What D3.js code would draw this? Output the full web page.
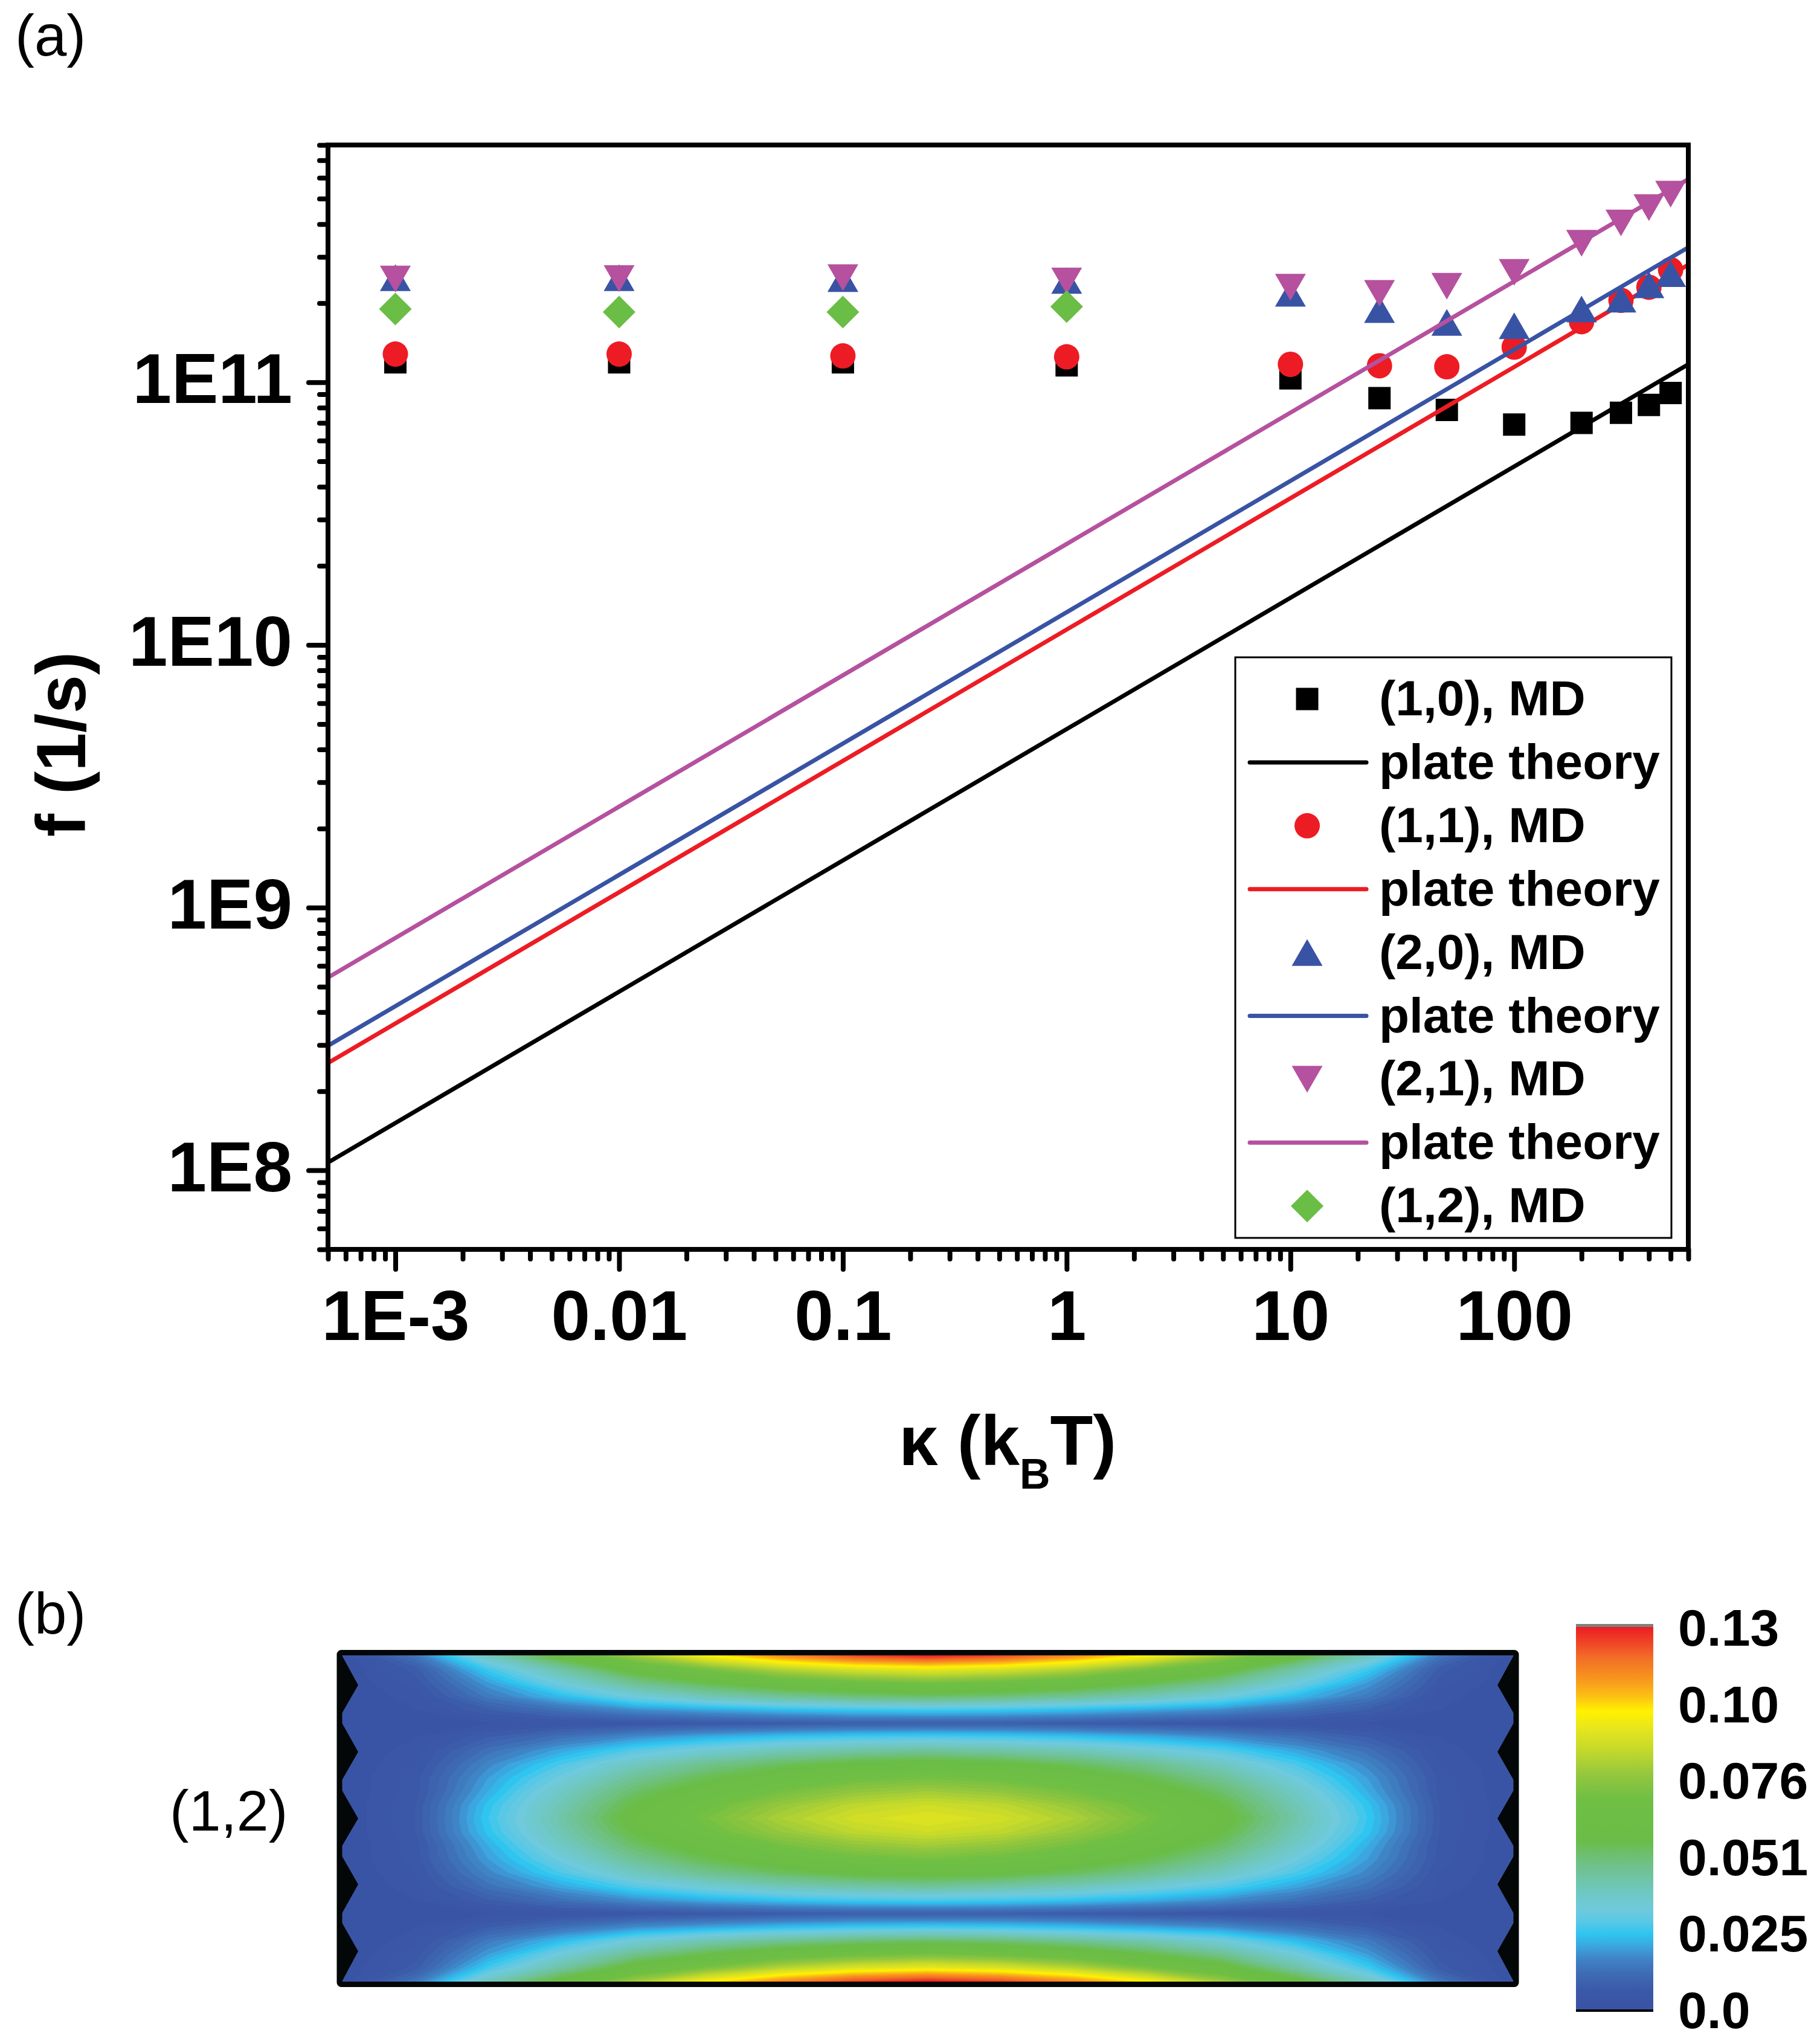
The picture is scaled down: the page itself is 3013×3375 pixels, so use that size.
<!DOCTYPE html>
<html>
<head>
<meta charset="utf-8">
<script src="https://cdn.jsdelivr.net/npm/d3@7"></script>
<style>
  body { margin: 0; background: #fff; }
  svg text { font-family: "Liberation Sans", Arial, Helvetica, sans-serif; }
</style>
</head>
<body>
<svg id="chart" width="3013" height="3375"></svg>
<script>
// ---- panel (a) data ----
const kappa = [0.001, 0.01, 0.1, 1, 10, 25, 50, 100, 200, 300, 400, 500];
const f10 = [1.19e11, 1.19e11, 1.19e11, 1.16e11, 1.035e11, 8.7e10, 7.85e10, 6.9e10, 7.0e10, 7.65e10, 8.2e10, 9.1e10];
const f11 = [1.28e11, 1.28e11, 1.26e11, 1.25e11, 1.17e11, 1.155e11, 1.145e11, 1.36e11, 1.70e11, 2.05e11, 2.30e11, 2.68e11];
const f20 = [2.50e11, 2.50e11, 2.48e11, 2.44e11, 2.18e11, 1.89e11, 1.69e11, 1.64e11, 1.90e11, 2.07e11, 2.35e11, 2.59e11];
const f21 = [2.47e11, 2.48e11, 2.50e11, 2.43e11, 2.30e11, 2.18e11, 2.32e11, 2.62e11, 3.38e11, 4.04e11, 4.62e11, 5.20e11];
const kappa12 = [0.001, 0.01, 0.1, 1];
const f12 = [1.90e11, 1.85e11, 1.85e11, 1.94e11];

const theoryKappa = [5e-4, 600];
const theory10 = [1.07e8, 1.17e11];
const theory11 = [2.56e8, 2.80e11];
const theory20 = [2.98e8, 3.26e11];
const theory21 = [5.42e8, 5.93e11];

const xTickValues = [1e-3, 1e-2, 1e-1, 1, 10, 100];
const xTickLabels = ["1E-3", "0.01", "0.1", "1", "10", "100"];
const yTickValues = [1e8, 1e9, 1e10, 1e11];
const yTickLabels = ["1E8", "1E9", "1E10", "1E11"];

// ---- panel (b) data: (1,2) mode amplitude, 25 rows (top to bottom) x 17 columns ----
const modeGrid = [
  [0, .014, .040, .060, .080, .098, .112, .122, .127, .122, .112, .098, .080, .060, .040, .014, 0],
  [0, .007, .027, .044, .061, .073, .084, .091, .094, .091, .084, .073, .061, .044, .027, .007, 0],
  [0, .005, .020, .034, .047, .056, .064, .069, .072, .069, .064, .056, .047, .034, .020, .005, 0],
  [0, .003, .015, .024, .034, .041, .046, .050, .052, .050, .046, .041, .034, .024, .015, .003, 0],
  [0, .002, .008, .013, .018, .021, .024, .026, .027, .026, .024, .021, .018, .013, .008, .002, 0],
  [0, .001, .002, .004, .005, .006, .007, .008, .008, .008, .007, .006, .005, .004, .002, .001, 0],
  [0, .002, .008, .013, .018, .022, .025, .027, .028, .027, .025, .022, .018, .013, .008, .002, 0],
  [0, .003, .013, .021, .029, .035, .040, .043, .045, .043, .040, .035, .029, .021, .013, .003, 0],
  [0, .004, .017, .028, .039, .047, .053, .058, .060, .058, .053, .047, .039, .028, .017, .004, 0],
  [0, .005, .020, .033, .046, .055, .063, .069, .071, .069, .063, .055, .046, .033, .020, .005, 0],
  [0, .005, .022, .038, .052, .062, .071, .077, .080, .077, .071, .062, .052, .038, .022, .005, 0],
  [0, .006, .025, .041, .057, .069, .078, .085, .088, .085, .078, .069, .057, .041, .025, .006, 0],
  [0, .006, .026, .043, .060, .072, .082, .089, .092, .089, .082, .072, .060, .043, .026, .006, 0],
  [0, .006, .025, .041, .057, .069, .078, .085, .088, .085, .078, .069, .057, .041, .025, .006, 0],
  [0, .005, .022, .038, .052, .062, .071, .077, .080, .077, .071, .062, .052, .038, .022, .005, 0],
  [0, .005, .020, .033, .046, .055, .063, .069, .071, .069, .063, .055, .046, .033, .020, .005, 0],
  [0, .004, .017, .028, .039, .047, .053, .058, .060, .058, .053, .047, .039, .028, .017, .004, 0],
  [0, .003, .013, .021, .029, .035, .040, .043, .045, .043, .040, .035, .029, .021, .013, .003, 0],
  [0, .002, .008, .013, .018, .022, .025, .027, .028, .027, .025, .022, .018, .013, .008, .002, 0],
  [0, .001, .002, .004, .005, .006, .007, .008, .008, .008, .007, .006, .005, .004, .002, .001, 0],
  [0, .002, .008, .013, .018, .021, .024, .026, .027, .026, .024, .021, .018, .013, .008, .002, 0],
  [0, .003, .015, .024, .034, .041, .046, .050, .052, .050, .046, .041, .034, .024, .015, .003, 0],
  [0, .005, .020, .034, .047, .056, .064, .069, .072, .069, .064, .056, .047, .034, .020, .005, 0],
  [0, .007, .027, .044, .061, .073, .084, .091, .094, .091, .084, .073, .061, .044, .027, .007, 0],
  [0, .014, .040, .060, .080, .098, .112, .122, .127, .122, .112, .098, .080, .060, .040, .014, 0]
];
// sheet edge (zigzag) profile: [indent fraction of width, y fraction of height]
const edgeProfile = [[0, 0], [0.0139, 0.091], [0, 0.178], [0, 0.207], [0.0139, 0.296], [0, 0.383], [0, 0.413],
  [0.0139, 0.5], [0, 0.585], [0, 0.615], [0.0139, 0.702], [0, 0.791], [0, 0.819], [0.0139, 0.907], [0, 1]];

const cmapValues = [0, 0.006, 0.012, 0.017, 0.021, 0.025, 0.029, 0.033, 0.038, 0.044, 0.050, 0.056, 0.070, 0.078, 0.086, 0.094, 0.099, 0.104, 0.110, 0.117, 0.123, 0.127];
const cmapColors = ["#3a53a4", "#3b58a7", "#3e6cb4", "#3f85c6", "#3ba6df", "#2ec5f0", "#58c8e6", "#6ecadc", "#6fc8c6", "#70c3a2", "#6ec07a", "#6abd47", "#6fbf44", "#94c73d", "#c3d92c", "#eae71a", "#fff200", "#fcc014", "#f7941d", "#f26c28", "#ee3b25", "#ed1c24"];
const colorbarTicks = [0, 0.0254, 0.0508, 0.0762, 0.1016, 0.127];
const colorbarLabels = ["0.0", "0.025", "0.051", "0.076", "0.10", "0.13"];

// ---- drawing ----
const svg = d3.select("#chart");
const plot = { left: 543, right: 2795, top: 240, bottom: 2068 };

const x = d3.scaleLog().domain([5e-4, 600]).range([plot.left, plot.right]);
const y = d3.scaleLog().domain([5e7, 8e11]).range([plot.bottom, plot.top]);

const black = "#000000", red = "#ed1c24", blue = "#3953a4", magenta = "#b5519e", green = "#6abd45";

// custom marker shapes (Origin style, centred on bounding box)
const triUp = { draw(ctx, size) { const w = Math.sqrt(size), h = w * 0.866;
  ctx.moveTo(0, -h / 2); ctx.lineTo(w / 2, h / 2); ctx.lineTo(-w / 2, h / 2); ctx.closePath(); } };
const triDown = { draw(ctx, size) { const w = Math.sqrt(size), h = w * 0.866;
  ctx.moveTo(0, h / 2); ctx.lineTo(w / 2, -h / 2); ctx.lineTo(-w / 2, -h / 2); ctx.closePath(); } };
const diamond = { draw(ctx, size) { const r = Math.sqrt(size) / 2;
  ctx.moveTo(0, -r); ctx.lineTo(r, 0); ctx.lineTo(0, r); ctx.lineTo(-r, 0); ctx.closePath(); } };

const series = [
  { type: "md", label: "(1,0), MD", xs: kappa, ys: f10, color: black, symbol: d3.symbolSquare, size: 37 * 37 },
  { type: "line", label: "plate theory", xs: theoryKappa, ys: theory10, color: black },
  { type: "md", label: "(1,1), MD", xs: kappa, ys: f11, color: red, symbol: d3.symbolCircle, size: Math.PI * 21 * 21 },
  { type: "line", label: "plate theory", xs: theoryKappa, ys: theory11, color: red },
  { type: "md", label: "(2,0), MD", xs: kappa, ys: f20, color: blue, symbol: triUp, size: 51 * 51 },
  { type: "line", label: "plate theory", xs: theoryKappa, ys: theory20, color: blue },
  { type: "md", label: "(2,1), MD", xs: kappa, ys: f21, color: magenta, symbol: triDown, size: 51 * 51 },
  { type: "line", label: "plate theory", xs: theoryKappa, ys: theory21, color: magenta },
  { type: "md", label: "(1,2), MD", xs: kappa12, ys: f12, color: green, symbol: diamond, size: 54 * 54 }
];

svg.append("defs").append("clipPath").attr("id", "plotClip")
  .append("rect").attr("x", plot.left).attr("y", plot.top)
  .attr("width", plot.right - plot.left).attr("height", plot.bottom - plot.top);

// minor ticks
function minorTicks(domain) {
  const out = [];
  const lo = Math.floor(Math.log10(domain[0])), hi = Math.ceil(Math.log10(domain[1]));
  for (let e = lo; e <= hi; e++) {
    for (let m = 2; m <= 9; m++) {
      const v = m * Math.pow(10, e);
      if (v >= domain[0] * 0.999 && v <= domain[1] * 1.001) out.push(v);
    }
  }
  return out;
}

const xMinor = svg.append("g").attr("transform", `translate(0,${plot.bottom})`)
  .call(d3.axisBottom(x).tickValues(minorTicks(x.domain())).tickSize(16).tickFormat(""));
const xMajor = svg.append("g").attr("transform", `translate(0,${plot.bottom})`)
  .call(d3.axisBottom(x).tickValues(xTickValues).tickSize(33)
    .tickFormat((d, i) => xTickLabels[i]));
const yMinor = svg.append("g").attr("transform", `translate(${plot.left},0)`)
  .call(d3.axisLeft(y).tickValues(minorTicks(y.domain())).tickSize(14).tickFormat(""));
const yMajor = svg.append("g").attr("transform", `translate(${plot.left},0)`)
  .call(d3.axisLeft(y).tickValues(yTickValues).tickSize(32)
    .tickFormat((d, i) => yTickLabels[i]));

[xMinor, xMajor, yMinor, yMajor].forEach(g => {
  g.select(".domain").remove();
  g.selectAll(".tick line").attr("stroke", "#000").attr("stroke-width", 8).attr("stroke-linecap", "round");
  g.selectAll("text").attr("fill", "#000").style("font-weight", "bold").style("font-size", "116px")
    .style("font-family", "'Liberation Sans', Arial, sans-serif");
});
xMajor.selectAll("text").attr("y", 150).attr("dy", 0);
yMajor.selectAll("text").attr("x", -59).attr("dy", 0).attr("y", 34);

// series
const plotG = svg.append("g").attr("clip-path", "url(#plotClip)");
series.forEach(s => {
  const pts = s.xs.map((k, i) => [k, s.ys[i]]);
  if (s.type === "line") {
    plotG.append("path").datum(pts)
      .attr("fill", "none").attr("stroke", s.color).attr("stroke-width", 7)
      .attr("d", d3.line().x(d => x(d[0])).y(d => y(d[1])));
  } else {
    plotG.append("g").selectAll("path").data(pts).join("path")
      .attr("transform", d => `translate(${x(d[0])},${y(d[1])})`)
      .attr("fill", s.color)
      .attr("d", d3.symbol().type(s.symbol).size(s.size));
  }
});

// frame
svg.append("rect").attr("x", plot.left).attr("y", plot.top)
  .attr("width", plot.right - plot.left).attr("height", plot.bottom - plot.top)
  .attr("fill", "none").attr("stroke", "#000").attr("stroke-width", 8);

// legend
const leg = { left: 2045, top: 1088, right: 2767, bottom: 2049, row0: 1157, step: 104.9 };
svg.append("rect").attr("x", leg.left).attr("y", leg.top)
  .attr("width", leg.right - leg.left).attr("height", leg.bottom - leg.top)
  .attr("fill", "#fff").attr("stroke", "#000").attr("stroke-width", 3);
const legRows = svg.append("g").selectAll("g").data(series).join("g")
  .attr("transform", (d, i) => `translate(0,${leg.row0 + i * leg.step})`);
legRows.each(function(s) {
  const g = d3.select(this);
  if (s.type === "line") {
    g.append("line").attr("x1", 2069).attr("x2", 2262).attr("y1", 0).attr("y2", 0)
      .attr("stroke", s.color).attr("stroke-width", 7).attr("stroke-linecap", "round");
  } else {
    g.append("path").attr("transform", "translate(2164,0)").attr("fill", s.color)
      .attr("d", d3.symbol().type(s.symbol).size(s.size));
  }
  g.append("text").attr("x", 2283).attr("y", 27)
    .style("font-size", "82px").style("font-weight", "bold").text(s.label);
});

// axis titles
svg.append("text").attr("transform", "translate(141,1232) rotate(-90)")
  .attr("text-anchor", "middle").style("font-size", "115px").style("font-weight", "bold")
  .text("f (1/s)");
const xt = svg.append("text").attr("x", 1668).attr("y", 2425).attr("text-anchor", "middle")
  .style("font-size", "116px").style("font-weight", "bold");
xt.append("tspan").text("\u03BA (k");
xt.append("tspan").attr("dy", 39).style("font-size", "70px").text("B");
xt.append("tspan").attr("dy", -39).text("T)");

// panel labels
svg.append("text").attr("x", 25).attr("y", 92).style("font-size", "96px").text("(a)");
svg.append("text").attr("x", 25).attr("y", 2704).style("font-size", "96px").text("(b)");
svg.append("text").attr("x", 281).attr("y", 3030).style("font-size", "95px").text("(1,2)");

// ---- panel (b): contour map ----
const hm = { left: 566, right: 2506, top: 2740, bottom: 3280 };
const nCols = modeGrid[0].length, nRows = modeGrid.length;
const hx = d3.scaleLinear().domain([0, 1]).range([hm.left, hm.right]);
const hy = d3.scaleLinear().domain([0, 1]).range([hm.top, hm.bottom]);
const color = d3.scaleLinear().domain(cmapValues).range(cmapColors).clamp(true);

const cellW = (hm.right - hm.left) / (nCols - 1), cellH = (hm.bottom - hm.top) / (nRows - 1);
const gridProj = d3.geoTransform({
  point(px, py) {
    this.stream.point(hm.left + (px - 0.5) * cellW, hm.top + (py - 0.5) * cellH);
  }
});
const values = modeGrid.flat();
const thresholds = d3.range(0, 0.128, 0.002);
const contours = d3.contours().size([nCols, nRows]).thresholds(thresholds)(values);

svg.select("defs").append("clipPath").attr("id", "hmClip")
  .append("rect").attr("x", hm.left).attr("y", hm.top)
  .attr("width", hm.right - hm.left).attr("height", hm.bottom - hm.top);

const hmG = svg.append("g").attr("clip-path", "url(#hmClip)");
hmG.selectAll("path").data(contours).join("path")
  .attr("d", d3.geoPath(gridProj))
  .attr("fill", d => color(d.value + 0.001))
  .attr("stroke", d => color(d.value + 0.001)).attr("stroke-width", 0.6);

// sheet edges (black zigzag outside the sheet)
const leftEdge = edgeProfile.map(p => [hx(p[0]), hy(p[1])]).concat([[hx(0) - 6, hy(1)], [hx(0) - 6, hy(0)]]);
const rightEdge = edgeProfile.map(p => [hx(1 - p[0]), hy(p[1])]).concat([[hx(1) + 6, hy(1)], [hx(1) + 6, hy(0)]]);
svg.append("g").selectAll("path").data([leftEdge, rightEdge]).join("path")
  .attr("d", d => d3.line()(d) + "Z").attr("fill", "#040707");

svg.append("rect").attr("x", 562).attr("y", 2735.5).attr("width", 1948).attr("height", 549)
  .attr("fill", "none").attr("stroke", "#040707").attr("stroke-width", 9).attr("rx", 3);

// ---- colorbar ----
const cb = { left: 2609, right: 2737, top: 2693, bottom: 3326 };
const cy = d3.scaleLinear().domain([0, 0.127]).range([cb.bottom, cb.top]);
const grad = svg.select("defs").append("linearGradient").attr("id", "cbGrad")
  .attr("x1", 0).attr("y1", 1).attr("x2", 0).attr("y2", 0);
grad.selectAll("stop").data(cmapValues).join("stop")
  .attr("offset", d => d / 0.127).attr("stop-color", (d, i) => cmapColors[i]);
svg.append("rect").attr("x", cb.left).attr("y", cb.top - 5).attr("width", cb.right - cb.left).attr("height", 5)
  .attr("fill", "#808080");
svg.append("rect").attr("x", cb.left).attr("y", cb.top).attr("width", cb.right - cb.left)
  .attr("height", cb.bottom - cb.top).attr("fill", "url(#cbGrad)");
svg.append("rect").attr("x", cb.left).attr("y", cb.bottom).attr("width", cb.right - cb.left).attr("height", 4)
  .attr("fill", "#000");
svg.append("g").selectAll("text").data(colorbarTicks).join("text")
  .attr("x", 2778).attr("y", d => cy(d)).attr("dy", "0.36em")
  .style("font-size", "86px").style("font-weight", "bold")
  .text((d, i) => colorbarLabels[i]);
</script>
</body>
</html>
